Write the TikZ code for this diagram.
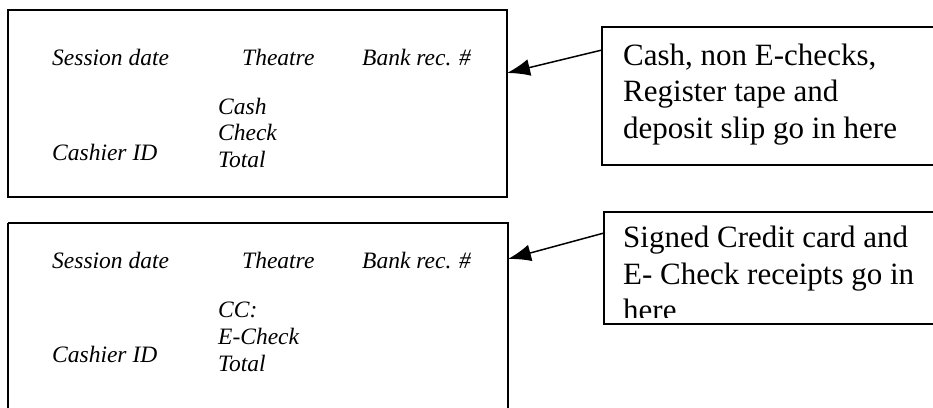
\documentclass[tikz,border=0pt]{standalone}
\usepackage{fontspec}
\setmainfont{Liberation Serif}
\usetikzlibrary{arrows.meta}

\tikzset{
  field/.style={anchor=base west, inner sep=0pt, font=\fontsize{23.5}{26.5}\selectfont\itshape},
  note/.style={anchor=base west, inner sep=0pt, font=\fontsize{31}{36.5}\selectfont},
  envelope/.style={line width=1.7pt},
  pointer/.style={line width=1.5pt, -{Latex[length=23pt,width=17pt]}}
}

\begin{document}
\begin{tikzpicture}[x=1pt,y=-1pt]
          \useasboundingbox (0,0) rectangle (933,407);
          % cash envelope
          \draw[envelope] (8,10) rectangle (507,197);
          \node[field] (date1) at (52,65) {Session date};
          \node[field] (theatre1) at (242,65) {Theatre};
          \node[field] (bank1) at (362,65) {Bank rec. \#};
          \node[field] (cash1) at (218,114) {Cash};
          \node[field] (check1) at (218,140) {Check};
          \node[field] (total1) at (218,167) {Total};
          \node[field] (cashier1) at (52,160) {Cashier ID};
          % card envelope
          \draw[envelope] (8,223) -- (508,223) -- (508,420) (8,223) -- (8,420);
          \node[field] (date2) at (52,268) {Session date};
          \node[field] (theatre2) at (242,268) {Theatre};
          \node[field] (bank2) at (362,268) {Bank rec. \#};
          \node[field] (cc2) at (218,317) {CC:};
          \node[field] (echeck2) at (218,344) {E-Check};
          \node[field] (total2) at (218,371) {Total};
          \node[field] (cashier2) at (52,362) {Cashier ID};
          % notes
          \draw[envelope] (950,27) -- (602,27) -- (602,165) -- (950,165);
          \node[note] (noteA1) at (623,65) {Cash, non E-checks,};
          \node[note] (noteA2) at (623,101.5) {Register tape and};
          \node[note] (noteA3) at (623,138) {deposit slip go in here};
          \draw[envelope] (950,212) -- (604,212) -- (604,324) -- (950,324);
          \node[note] (noteB1) at (623,247) {Signed Credit card and};
          \node[note] (noteB2) at (623,284) {E- Check receipts go in};
          \begin{scope}
            \clip (604,292) rectangle (950,317);
            \node[note] (noteB3) at (623,320.5) {here};
          \end{scope}
          \coordinate (fromA) at (602,50);
          \coordinate (toA) at (507,73);
          \coordinate (fromB) at (604,233);
          \coordinate (toB) at (508,259);
          \draw[pointer] (fromA) -- (toA);
          \draw[pointer] (fromB) -- (toB);
\end{tikzpicture}
\end{document}
